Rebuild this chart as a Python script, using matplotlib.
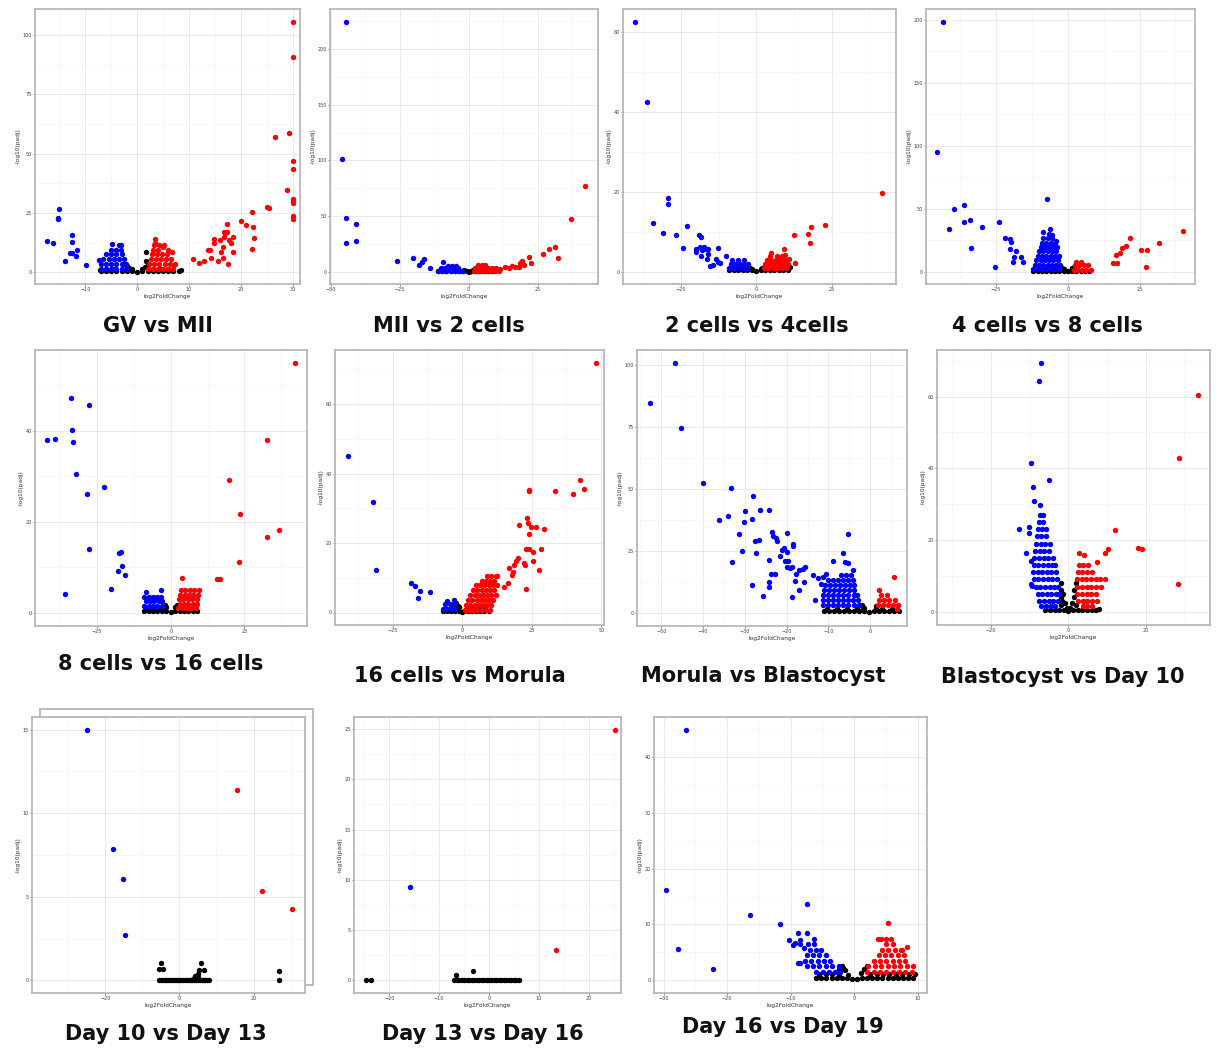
import matplotlib
matplotlib.use('Agg')
import matplotlib.pyplot as plt
from matplotlib.patches import Rectangle
from matplotlib.ticker import AutoMinorLocator

W, H = 1216, 1050

# each comparison: down-regulated (blue), up-regulated (red), not significant (black)
# points are (log2FoldChange, -log10(padj))

gv_mii_down = [(-15, 26.5), (-15.3, 23), (-15.2, 22.4), (-17.4, 13), (-16.3, 12.3), (-12.5, 15.8),
               (-12.6, 12.8), (-13, 8), (-12.6, 8), (-11.6, 9.4), (-11.7, 7), (-13.9, 4.6), (-9.8, 3.2),
               (-7, 1.5), (-6, 1.5), (-5, 1.5), (-4, 1.5), (-3, 1.5), (-2, 1.5),
               (-7, 3.5), (-6, 3.5), (-5, 3.5), (-4, 3.5), (-3, 3.5), (-2.2, 3.5),
               (-6.5, 5.5), (-5.5, 5.5), (-4.5, 5.5), (-3.5, 5.5), (-2.6, 5.5),
               (-6, 7.5), (-5, 7.5), (-4, 7.5), (-3, 7.5), (-5, 9.5), (-4, 9.5), (-3.2, 9.5),
               (-4.8, 12), (-3.5, 11.5), (-3.2, 11.5), (-7.3, 5)]
gv_mii_up = [(30.1, 105.6), (30, 90.8), (29.2, 58.9), (26.5, 57), (30, 46.8), (30, 43.4), (28.9, 34.8),
             (30, 30.8), (30, 30), (30, 29.2), (30, 23.5), (30, 22.5), (25, 27.3), (25.5, 26.9),
             (22.2, 25.2), (22.4, 18.9), (22.5, 14.4), (22.2, 9.9), (20.1, 21.5), (20.9, 20), (17.4, 20.1),
             (17, 16.6), (16.7, 16.8), (17.3, 16.8), (14.8, 14), (16, 13.7), (14.8, 12.3), (16.7, 14.8),
             (18.5, 15), (17.7, 13.4), (18, 12.3), (16.6, 10.6), (18.5, 8.4), (16.1, 8.4), (13.7, 9.2),
             (14, 9.2), (14.2, 6), (16.5, 6), (15.6, 4.5), (17.6, 3.5), (10.8, 5.6), (12, 4), (12.9, 4.6),
             (2, 1.5), (3, 1.5), (4, 1.5), (5, 1.5), (6, 1.5), (7, 1.5),
             (2.3, 3.5), (3.3, 3.5), (4.3, 3.5), (5.3, 3.5), (6.3, 3.5), (7.3, 3.5),
             (2.6, 5.5), (3.6, 5.5), (4.6, 5.5), (5.6, 5.5), (6.6, 5.5),
             (2.8, 7.5), (3.8, 7.5), (4.8, 7.5), (5.8, 7.5), (6.8, 8.5),
             (3, 9.5), (4, 9.5), (5, 10.4), (6, 9.5), (3.3, 11.5), (4.3, 11.5), (5.2, 11.5),
             (3.4, 14), (3.5, 12.3), (7.1, 3.2)]
gv_mii_ns = [(-7.2, 1.1), (1.7, 8.4), (8.4, 1.1), (-7, 0.5), (-6, 0.5), (-5, 0.5), (-4, 0.5), (-3, 0.5),
             (-2, 0.5), (-1, 0.5), (0, 0.2), (1, 0.5), (2, 0.5), (3, 0.5), (4, 0.5), (5, 0.5), (6, 0.5),
             (7, 0.5), (8, 0.5), (-2.3, 3.5), (-2, 2.5), (-1.5, 1.8), (-1, 1.2), (1, 1.2), (1.5, 2.2),
             (2, 3.2), (1.8, 4.5), (-6, 1.3), (-4.5, 1.3), (-3, 1.3), (3, 1.3), (4.5, 1.3), (6, 1.3)]

mii_2c_down = [(-44.3, 224.6), (-45.7, 101.2), (-44.5, 48.5), (-40.9, 42.8), (-44.3, 26), (-40.9, 27.5),
               (-26, 9.3), (-20, 12.6), (-16.3, 11.7), (-16.9, 9), (-17.8, 6), (-13.8, 3.3), (-9.1, 8.4),
               (-11, 1), (-9.5, 1), (-8, 1), (-6.5, 1), (-5, 1), (-3.5, 1), (-2.2, 1),
               (-10, 3.5), (-8.5, 3.5), (-7, 3.5), (-5.5, 3.5), (-4, 3.5), (-7.5, 5.5), (-6, 5.5), (-4.5, 5)]
mii_2c_up = [(42.3, 77.2), (37, 47.6), (31.4, 21.9), (29.1, 20), (27.1, 15.9), (32.4, 12.6), (21.8, 13.5),
             (22.5, 7.5), (19.3, 10), (18.7, 8), (20, 6), (18.1, 4.5), (16.9, 4.5), (15.7, 5.4), (14.5, 3),
             (13.3, 4.5), (11.5, 2.7), (2, 1), (3.5, 1), (5, 1), (6.5, 1), (8, 1), (9.5, 1), (11, 1),
             (2.5, 3.5), (4, 3.5), (5.5, 3.5), (7, 3.5), (8.5, 3.5), (10, 3.5), (3.5, 6), (5, 6), (6, 6)]
mii_2c_ns = [(-11, 0.3), (-9.5, 0.3), (-8, 0.3), (-6.5, 0.3), (-5, 0.3), (-3.5, 0.3), (-2, 0.3), (-0.5, 0.3),
             (1, 0.3), (2.5, 0.3), (4, 0.3), (5.5, 0.3), (7, 0.3), (8.5, 0.3), (0, 0), (-1.5, 2), (1.5, 1.8)]

c2_c4_down = [(-40.2, 62.5), (-36.4, 42.4), (-29.2, 18.3), (-29.2, 17), (-34.2, 12.1), (-30.9, 9.7),
              (-26.5, 9.1), (-23, 11.5), (-24.3, 6), (-20.1, 5), (-19.9, 5.6), (-19, 9.2), (-18.3, 8.6),
              (-18.5, 6.25), (-17.4, 6.25), (-16.8, 5.6), (-17.9, 5.4), (-18.3, 3.9), (-15.9, 5.7),
              (-16.1, 4.4), (-16.3, 3.1), (-15.2, 1.4), (-14.3, 1.7), (-12.7, 5.9), (-13.2, 3.1),
              (-12.8, 2.5), (-11.9, 2.1), (-9.9, 3.8), (-9, 0.8), (-7.5, 0.8), (-6, 0.8), (-4.5, 0.8),
              (-3, 0.8), (-8.5, 1.8), (-7, 1.8), (-5.5, 1.8), (-4, 1.8), (-2.8, 1.8), (-8, 2.8), (-6, 2.8),
              (-4.2, 2.8)]
c2_c4_up = [(41.9, 19.6), (23, 11.6), (18.1, 11.1), (12.4, 9.1), (17.2, 9.3), (17.7, 7.25), (9.1, 5.75),
            (4.9, 4.6), (9.7, 4.2), (12.9, 2.1), (10.8, 3.1), (7.9, 3.3), (6.8, 2.5),
            (2.5, 0.8), (4, 0.8), (5.5, 0.8), (7, 0.8), (8.5, 0.8), (10, 0.8),
            (3, 1.8), (4.5, 1.8), (6, 1.8), (7.5, 1.8), (9, 1.8), (10.5, 1.8),
            (3.5, 2.8), (5, 2.8), (6.5, 2.8), (8, 2.8), (9.5, 2.8), (4.5, 3.8), (7, 3.8), (8.5, 3.8)]
c2_c4_ns = [(11.3, 1.25), (-9, 0.3), (-7.5, 0.3), (-6, 0.3), (-4.5, 0.3), (-3, 0.3), (-1.5, 0.3), (0, 0.1),
            (1.5, 0.3), (3, 0.3), (4.5, 0.3), (6, 0.3), (7.5, 0.3), (9, 0.3), (10.5, 0.3),
            (-2, 0.9), (-1.5, 0.6), (1.5, 0.6), (2, 0.9)]

c4_c8_down = [(-43.6, 198.4), (-45.5, 95.2), (-39.7, 49.7), (-41.3, 33.6), (-36.2, 53.2), (-36, 39.7),
              (-34.1, 41), (-33.7, 18.5), (-30, 35.7), (-24, 39.7), (-25.3, 4), (-21.9, 26.5), (-20.1, 26.2),
              (-19.9, 23.5), (-20.1, 17.7), (-18, 16.7), (-18.7, 11.9), (-19, 7.4), (-16.4, 11.9),
              (-15.5, 7.9), (-7.2, 57.4),
              (-12, 2), (-10.5, 2), (-9, 2), (-7.5, 2), (-6, 2), (-4.5, 2), (-3, 2),
              (-11.5, 5.5), (-10, 5.5), (-8.5, 5.5), (-7, 5.5), (-5.5, 5.5), (-4, 5.5), (-2.8, 5.5),
              (-11, 9), (-9.5, 9), (-8, 9), (-6.5, 9), (-5, 9), (-3.5, 9),
              (-10.5, 12.5), (-9, 12.5), (-7.5, 12.5), (-6, 12.5), (-4.5, 12.5), (-3.2, 12.5),
              (-10, 16), (-8.5, 16), (-7, 16), (-5.5, 16), (-4, 16),
              (-9.5, 19.5), (-8, 19.5), (-6.5, 19.5), (-5, 19.5), (-3.8, 19.5),
              (-9, 23), (-7.5, 23), (-6, 23), (-4.5, 23), (-4.1, 24.6),
              (-8.5, 26.5), (-7, 26.5), (-5.5, 26.5), (-8.5, 31.7), (-6.5, 30), (-6.2, 33.6), (-5.5, 29)]
c4_c8_up = [(40.1, 32.5), (31.6, 22.5), (27.6, 17.2), (25.5, 17.2), (27.2, 3.4), (21.7, 26.5), (20.1, 20.4),
            (18.8, 18.5), (18.3, 14.6), (16.7, 13.2), (15.9, 7.1), (17.1, 6.6),
            (2, 1.5), (3.5, 1.5), (5, 1.5), (6.5, 1.5), (8, 1.5), (2.5, 5), (4, 5), (5.5, 5), (7, 5),
            (3, 8), (4.5, 7.5)]
c4_c8_ns = [(-12, 0.8), (-10.5, 0.8), (-9, 0.8), (-7.5, 0.8), (-6, 0.8), (-4.5, 0.8), (-3, 0.8),
            (-1.5, 0.8), (0, 0.2), (1.5, 0.8), (3, 0.8), (4.5, 0.8), (6, 0.8), (7.5, 0.8),
            (-2, 3), (-1.5, 2), (1.5, 3), (2, 3.5)]

c8_c16_down = [(-33.8, 47.1), (-27.6, 45.6), (-33.4, 40.1), (-33, 37.4), (-41.9, 37.9), (-39.3, 38.1),
               (-32.1, 30.5), (-22.6, 27.6), (-28.5, 26), (-27.6, 14.1), (-17, 13.3), (-17.4, 13.1),
               (-16.6, 10.3), (-18, 9.2), (-15.4, 8.2), (-20.2, 5.3), (-36, 4.2),
               (-9, 1.5), (-7.5, 1.5), (-6, 1.5), (-4.5, 1.5), (-3, 1.5),
               (-8.5, 2.5), (-7, 2.5), (-5.5, 2.5), (-4, 2.5), (-3, 2.5),
               (-9, 3.5), (-7.5, 3.5), (-6, 3.5), (-4.5, 3.5), (-3.2, 3.5), (-8.5, 4.5), (-3.3, 5.1)]
c8_c16_up = [(42, 54.8), (32.6, 37.9), (19.6, 29.2), (23.5, 21.6), (36.7, 18.1), (32.6, 16.6), (23.3, 11.1),
             (15.8, 7.5), (16.7, 7.5), (3.7, 7.7),
             (2.5, 1), (4, 1), (5.5, 1), (7, 1), (8.5, 1), (3, 2), (4.5, 2), (6, 2), (7.5, 2), (9, 2),
             (2.8, 3), (4.3, 3), (5.8, 3), (7.3, 3), (8.8, 3), (3.2, 4), (4.7, 4), (6.2, 4), (7.7, 4),
             (9.2, 4), (3.5, 5), (5, 5), (6.5, 5), (8, 5), (9.5, 5)]
c8_c16_ns = [(-9, 0.4), (-7.5, 0.4), (-6, 0.4), (-4.5, 0.4), (-3, 0.4), (-1.5, 0.4), (0, 0.1), (1.5, 0.4),
             (3, 0.4), (4.5, 0.4), (6, 0.4), (7.5, 0.4), (9, 0.4), (-8, 1.1), (-6, 1.1), (-4, 1.1),
             (-2, 1.1), (2, 1.1), (4, 1.1), (6, 1.1), (8, 1.1), (-2, 1.8), (2, 1.8), (-1.5, 1.2), (1.5, 1.2)]

c16_mor_down = [(-41.2, 45.1), (-32, 31.7), (-30.8, 12.2), (-18.2, 8.6), (-17, 7.7), (-15.2, 6.2),
                (-15.8, 4.1), (-11.4, 5.8), (-7, 1), (-5.5, 1), (-4, 1), (-2.5, 1), (-6, 2.5), (-4.5, 2.5),
                (-3, 2.5), (-5.5, 3.2), (-3, 3.5)]
c16_mor_up = [(48, 71.8), (42.2, 38.2), (43.8, 35.6), (39.9, 34.1), (33.5, 35), (24.2, 35.4), (24.2, 35),
              (23.4, 27.2), (23.5, 25.7), (24.9, 24.5), (26.7, 24.5), (29.3, 24.1), (20.4, 25.2),
              (24.1, 22.6), (23.1, 18.3), (24, 18.2), (25.4, 17.4), (28.4, 18.2), (25.6, 14.7),
              (27.7, 12.3), (20.1, 15.8), (19.2, 14.7), (22.3, 14.2), (22.5, 13.7), (18.7, 13.7),
              (18.3, 11.8), (18, 10.8), (16.8, 12.8), (16.5, 8.4), (14.9, 7.3), (23, 6.7), (12.7, 10.6),
              (1, 0.8), (2.5, 0.8), (4, 0.8), (5.5, 0.8), (7, 0.8), (8.5, 0.8), (10, 0.8),
              (1.5, 2.2), (3, 2.2), (4.5, 2.2), (6, 2.2), (7.5, 2.2), (9, 2.2), (10.5, 2.2),
              (2.2, 3.6), (3.7, 3.6), (5.2, 3.6), (6.7, 3.6), (8.2, 3.6), (9.7, 3.6), (11.2, 3.6),
              (3, 5), (4.5, 5), (6, 5), (7.5, 5), (9, 5), (10.5, 5), (12, 5),
              (4, 6.4), (5.5, 6.4), (7, 6.4), (8.5, 6.4), (10, 6.4), (11.5, 6.4),
              (5, 7.8), (6.5, 7.8), (8, 7.8), (9.5, 7.8), (11, 7.8), (12.5, 7.8),
              (7, 9.2), (8.5, 9.2), (10, 9.2), (11.5, 9.2), (9, 10.4), (10.5, 10.4), (12, 10.4)]
c16_mor_ns = [(-7, 0.4), (-5.5, 0.4), (-4, 0.4), (-2.5, 0.4), (-1, 0.4), (0, 0.1), (0.5, 0.4), (2, 0.4),
              (3.5, 0.4), (5, 0.4), (6.5, 0.4), (8, 0.4), (9.5, 0.4), (-6, 1.2), (-4, 1.2), (-2, 1.2),
              (2, 1.2), (4, 1.2), (6, 1.2), (8, 1.2), (-2.2, 2.8), (-1.5, 2), (-1, 1.5)]

mor_bla_down = [(-52.8, 84.8), (-46.8, 100.7), (-45.3, 74.7), (-39.9, 52.2), (-33.3, 50.2), (-28, 47.1),
                (-36.3, 37.4), (-34, 38.8), (-29.9, 41.2), (-30.2, 36.7), (-28.2, 37.8), (-26.4, 41.5),
                (-24.3, 41.5), (-31.5, 31.6), (-27.5, 29.1), (-26.5, 29.2), (-30.7, 25), (-27.4, 24),
                (-33.1, 20.3), (-28.3, 11.2), (-25.6, 6.6), (-24.1, 21.3), (-24.1, 12.2), (-24.1, 10.4),
                (-23.5, 32.4), (-23.3, 31), (-22.5, 30.3), (-22.2, 28.9), (-19.9, 32), (-21.1, 25.3),
                (-20.6, 26.2), (-19.9, 24.4), (-21.5, 23), (-23.8, 15.7), (-22.7, 15.7), (-18.5, 27.6),
                (-18.5, 26.9), (-20.3, 20.9), (-19.7, 20.9), (-19.9, 18.6), (-19.1, 18.2), (-18.7, 18.6),
                (-17.7, 15.5), (-17.9, 12.8), (-17, 17.2), (-16.2, 17.5), (-15.7, 18.6), (-15.8, 12.2),
                (-17, 9.2), (-18.7, 6.5), (-13.8, 15), (-13.1, 5.1), (-12.4, 13.9), (-11.4, 14.3),
                (-11.7, 11.7), (-10.6, 15.5), (-8.8, 20.9), (-6.6, 24), (-5.2, 31.9), (-6, 20.3),
                (-5.3, 19.9), (-4.2, 17.2),
                (-11.2, 3), (-10, 3), (-8.8, 3), (-7.6, 3), (-6.4, 3), (-5.2, 3), (-4, 3), (-2.8, 3),
                (-11.4, 5), (-10.2, 5), (-9, 5), (-7.8, 5), (-6.6, 5), (-5.4, 5), (-4.2, 5), (-3, 5),
                (-11.2, 7), (-10, 7), (-8.8, 7), (-7.6, 7), (-6.4, 7), (-5.2, 7), (-4, 7), (-3.2, 7),
                (-11, 9), (-9.8, 9), (-8.6, 9), (-7.4, 9), (-6.2, 9), (-5, 9), (-3.8, 9),
                (-10.8, 11), (-9.6, 11), (-8.4, 11), (-7.2, 11), (-6, 11), (-4.8, 11), (-3.8, 11),
                (-10, 13), (-8.8, 13), (-7.6, 13), (-6.4, 13), (-5.2, 13), (-4.2, 13),
                (-7, 15), (-5.8, 15), (-4.6, 15)]
mor_bla_up = [(5.8, 14.5), (2, 9.2), (1.8, 3), (3, 3), (4.2, 3), (5.4, 3), (6.6, 3),
              (2.2, 5), (3.4, 5), (4.6, 5), (6, 5), (2.5, 7), (4, 7), (6.3, 1.5)]
mor_bla_ns = [(-11, 0.6), (-9.8, 0.6), (-8.6, 0.6), (-7.4, 0.6), (-6.2, 0.6), (-5, 0.6), (-3.8, 0.6),
              (-2.6, 0.6), (-1.4, 0.6), (-0.2, 0.2), (1, 0.6), (2.2, 0.6), (3.4, 0.6), (4.6, 0.6),
              (5.8, 0.6), (7, 0.6), (-10.4, 1.4), (-8, 1.4), (-5.6, 1.4), (-3.2, 1.4), (2.8, 1.4),
              (5.2, 1.4), (-1.8, 1.8), (1.4, 1.8), (-2, 3), (-1.5, 2), (1.5, 2.5)]

bla_d10_down = [(-7.1, 69.4), (-7.6, 64.4), (-9.8, 41.5), (-5, 36.8), (-9.1, 34.9), (-8.8, 30.8),
                (-7.4, 29.7), (-12.8, 23.1), (-10.3, 23.6), (-10.3, 21.9), (-10.9, 16.5), (-9.8, 14.2),
                (-9.7, 7.7), (-9.5, 7.2),
                (-7, 1.5), (-5.8, 1.5), (-4.6, 1.5), (-3.4, 1.5),
                (-7.5, 3), (-6.3, 3), (-5.1, 3), (-3.9, 3), (-2.7, 3),
                (-8, 5), (-6.8, 5), (-5.6, 5), (-4.4, 5), (-3.2, 5), (-2.4, 5),
                (-8.5, 7), (-7.3, 7), (-6.1, 7), (-4.9, 7), (-3.7, 7), (-2.6, 7),
                (-9, 9), (-7.8, 9), (-6.6, 9), (-5.4, 9), (-4.2, 9), (-3, 9),
                (-9.2, 11), (-8, 11), (-6.8, 11), (-5.6, 11), (-4.4, 11), (-3.2, 11),
                (-9, 13), (-7.8, 13), (-6.6, 13), (-5.4, 13), (-4.2, 13), (-3.4, 13),
                (-8.8, 15), (-7.6, 15), (-6.4, 15), (-5.2, 15), (-4, 15),
                (-8.6, 17), (-7.4, 17), (-6.2, 17), (-5, 17), (-8.4, 19), (-7.2, 19), (-6, 19), (-4.8, 19),
                (-8.2, 21), (-7, 21), (-5.8, 21), (-8, 23), (-6.8, 23), (-5.8, 23),
                (-7.6, 25), (-6.6, 25), (-7.4, 27), (-6.6, 27)]
bla_d10_up = [(33.4, 60.4), (28.7, 43), (12.1, 22.8), (17.9, 17.7), (19.1, 17.5), (28.4, 7.7), (10.3, 17.4),
              (9.5, 16.5), (2.6, 16.5), (4.1, 15.8), (7.5, 14),
              (3.7, 1.5), (4.9, 1.5), (6.1, 1.5), (2.5, 3), (3.7, 3), (4.9, 3), (6.1, 3),
              (7.3, 3), (2.3, 5), (3.5, 5), (4.7, 5), (5.9, 5), (7.1, 5),
              (2.3, 7), (3.5, 7), (4.7, 7), (5.9, 7), (7.1, 7), (8.3, 7),
              (2.2, 9), (3.4, 9), (4.6, 9), (5.8, 9), (7, 9), (8.2, 9), (9.4, 9),
              (2.4, 11), (3.6, 11), (4.8, 11), (6, 11), (2.6, 13), (3.8, 13), (5, 13)]
bla_d10_ns = [(7.9, 0.7), (-6, 0.5), (-4.8, 0.5), (-3.6, 0.5), (-2.4, 0.5), (-1.2, 0.5), (0, 0.1),
              (1.2, 0.5), (2.4, 0.5), (3.6, 0.5), (4.8, 0.5), (6, 0.5), (7, 0.5),
              (-2, 2), (-2, 4), (-2, 6), (-2, 8), (-1.6, 3), (-1.5, 5), (-1, 2.5), (-0.5, 1), (0.5, 1),
              (1, 2.5), (1.5, 4), (1.5, 6), (1.9, 8), (1.9, 2)]

d10_d13_down = [(-25, 14.98), (-18, 7.84), (-15.1, 6.06), (-14.6, 2.7)]
d10_d13_up = [(15.5, 11.4), (22.2, 5.34), (30.5, 4.28)]
d10_d13_ns = [(27, 0.56), (27, 0), (-5, 1.04), (-5.4, 0.68), (-4.3, 0.68), (5.8, 1.04), (5.4, 0.6),
              (6.5, 0.6), (4.2, 0.24), (4.9, 0.2), (-5.5, 0), (-5, 0), (-4.5, 0), (-4, 0), (-3.5, 0),
              (-3, 0), (-2.5, 0), (-2, 0), (-1.5, 0), (-1, 0), (-0.5, 0), (0, 0), (0.5, 0), (1, 0),
              (1.5, 0), (2, 0), (2.5, 0), (3, 0), (3.5, 0), (4, 0), (4.5, 0), (5, 0), (5.5, 0), (6, 0),
              (6.5, 0), (7, 0), (7.5, 0), (8, 0), (5, 0.4), (3.6, 0.1)]

d13_d16_down = [(-15.8, 9.25)]
d13_d16_up = [(25.3, 24.9), (13.4, 3.06)]
d13_d16_ns = [(-24.6, 0), (-23.6, 0), (-6.7, 0.5), (-3.2, 0.93), (-7, 0), (-6.5, 0), (-6, 0), (-5.5, 0),
              (-5, 0), (-4.5, 0), (-4, 0), (-3.5, 0), (-3, 0), (-2.5, 0), (-2, 0), (-1.5, 0), (-1, 0),
              (-0.5, 0), (0, 0), (0.5, 0), (1, 0), (1.5, 0), (2, 0), (2.5, 0), (3, 0), (3.5, 0), (4, 0),
              (4.5, 0), (5, 0), (5.5, 0), (6, 0)]

d16_d19_down = [(-26.5, 44.9), (-29.6, 16.1), (-27.8, 5.6), (-22.2, 2), (-16.4, 11.75), (-11.7, 10.1),
                (-7.4, 13.7), (-8.8, 8.5), (-7.5, 8.4), (-10.3, 7.2), (-6.4, 7.3), (-9.6, 6.3), (-9.3, 6.6),
                (-8.6, 7.2), (-8, 5.8), (-8.6, 3), (-8.8, 3),
                (-6, 1.5), (-5, 1.5), (-4, 1.5), (-3, 1.5), (-2.2, 1.5),
                (-7.5, 2.5), (-6.5, 2.5), (-5.5, 2.5), (-4.5, 2.5), (-3.5, 2.5), (-2.5, 2.5),
                (-7.8, 3.5), (-6.8, 3.5), (-5.8, 3.5), (-4.8, 3.5), (-3.8, 3.5),
                (-7.5, 4.5), (-6.5, 4.5), (-5.5, 4.5), (-4.5, 4.5), (-7, 5.5), (-6, 5.5), (-5.2, 5.5),
                (-8.5, 6.5), (-7.3, 6.5), (-6.3, 6.5)]
d16_d19_up = [(5.3, 10.3), (3.7, 7.4), (4.2, 7.4), (5, 7.4), (5.7, 7.4), (8.2, 6), (7.4, 5.5), (9.2, 2.5),
              (2, 1.5), (3, 1.5), (4, 1.5), (5, 1.5), (6, 1.5), (7, 1.5), (8, 1.5), (9, 1.5),
              (2.2, 2.5), (3.2, 2.5), (4.2, 2.5), (5.2, 2.5), (6.2, 2.5), (7.2, 2.5), (8.2, 2.5),
              (3, 3.5), (4, 3.5), (5, 3.5), (6, 3.5), (7, 3.5), (8, 3.5),
              (3.8, 4.5), (4.8, 4.5), (5.8, 4.5), (6.8, 4.5), (7.8, 4.5),
              (4.3, 5.5), (5.3, 5.5), (6.3, 5.5), (7.3, 5.5), (5, 6.5), (6, 6.5)]
d16_d19_ns = [(-6, 0.4), (-5.2, 0.4), (-4.4, 0.4), (-3.6, 0.4), (-2.8, 0.4), (-2, 0.4), (-1.2, 0.4),
              (-0.4, 0.2), (0.4, 0.2), (1.2, 0.4), (2, 0.4), (2.8, 0.4), (3.6, 0.4), (4.4, 0.4), (5.2, 0.4),
              (6, 0.4), (6.8, 0.4), (7.6, 0.4), (8.4, 0.4), (9.2, 0.4),
              (-5.5, 1.1), (-4.5, 1.1), (-3.5, 1.1), (-2.5, 1.1), (2.5, 1.1), (3.5, 1.1), (4.5, 1.1),
              (5.5, 1.1), (6.5, 1.1), (7.5, 1.1), (8.5, 1.1), (9.5, 1.1),
              (-2, 2.5), (-1.5, 1.8), (-1, 1), (1, 1.2), (1.5, 2), (2, 2.5), (-2.5, 2), (-1.8, 2.2)]

titles = ['GV vs MII', 'MII vs 2 cells', '2 cells vs 4cells', '4 cells vs 8 cells',
          '8 cells vs 16 cells', '16 cells vs Morula', 'Morula vs Blastocyst', 'Blastocyst vs Day 10',
          'Day 10 vs Day 13', 'Day 13 vs Day 16', 'Day 16 vs Day 19']

panels = [
    # (down, up, ns), box px (l, t, r, b), xlim, ylim, xticks, yticks, title centre px
    ((gv_mii_down, gv_mii_up, gv_mii_ns), (35, 9, 300, 284), (-19.7, 31.4), (-5, 111),
     [-10, 0, 10, 20, 30], [0, 25, 50, 75, 100], (158, 326)),
    ((mii_2c_down, mii_2c_up, mii_2c_ns), (330, 9, 598, 284), (-50.2, 46.9), (-11, 236),
     [-50, -25, 0, 25], [0, 50, 100, 150, 200], (449, 326)),
    ((c2_c4_down, c2_c4_up, c2_c4_ns), (623, 9, 896, 284), (-44.2, 46.4), (-3.1, 65.7),
     [-25, 0, 25], [0, 20, 40, 60], (757, 326)),
    ((c4_c8_down, c4_c8_up, c4_c8_ns), (926, 9, 1195, 284), (-49.4, 44.3), (-9.8, 208.5),
     [-25, 0, 25], [0, 50, 100, 150, 200], (1047, 326)),
    ((c8_c16_down, c8_c16_up, c8_c16_ns), (35, 350, 307, 626), (-46, 46.2), (-2.9, 57.7),
     [-25, 0, 25], [0, 20, 40], (161, 664)),
    ((c16_mor_down, c16_mor_up, c16_mor_ns), (335, 350, 604, 625), (-45.7, 51), (-3.6, 75.6),
     [-25, 0, 25, 50], [0, 20, 40, 60], (460, 676)),
    ((mor_bla_down, mor_bla_up, mor_bla_ns), (637, 350, 907, 626), (-55.8, 8.8), (-5.4, 106),
     [-50, -40, -30, -20, -10, 0], [0, 25, 50, 75, 100], (763, 676)),
    ((bla_d10_down, bla_d10_up, bla_d10_ns), (937, 350, 1210, 625), (-34, 36.6), (-3.7, 73),
     [-20, 0, 20], [0, 20, 40, 60], (1063, 677)),
    ((d10_d13_down, d10_d13_up, d10_d13_ns), (32, 717, 305, 993), (-39.8, 33.9), (-0.76, 15.76),
     [-20, 0, 20], [0, 5, 10, 15], (166, 1034)),
    ((d13_d16_down, d13_d16_up, d13_d16_ns), (354, 717, 621, 993), (-27.1, 26.5), (-1.26, 26.2),
     [-20, -10, 0, 10, 20], [0, 5, 10, 15, 20, 25], (483, 1034)),
    ((d16_d19_down, d16_d19_up, d16_d19_ns), (654, 717, 927, 993), (-31.5, 11.4), (-2.3, 47.2),
     [-30, -20, -10, 0, 10], [0, 10, 20, 30, 40], (783, 1027)),
]

fig = plt.figure(figsize=(W / 100, H / 100), dpi=100)
fig.patch.set_facecolor('white')

# the Day 10 vs Day 13 image carries a second frame behind it
fig.patches.append(Rectangle((40 / W, 1 - 985 / H), 273 / W, 276 / H, transform=fig.transFigure,
                             fill=False, edgecolor='#b0b0b0', linewidth=1.2, zorder=-5))

for (down, up, ns), box, xlim, ylim, xticks, yticks, tpos in panels:
    l, t, r, b = box
    ax = fig.add_axes([l / W, 1 - b / H, (r - l) / W, (b - t) / H])
    ax.set_zorder(1)
    for pts, col in ((ns, 'black'), (down, '#0000ff'), (up, '#ff0000')):
        ax.scatter([p[0] for p in pts], [p[1] for p in pts], s=15, c=col, linewidths=0, zorder=3)
    ax.set_xlim(xlim)
    ax.set_ylim(ylim)
    ax.set_xticks(xticks)
    ax.set_yticks(yticks)
    ax.xaxis.set_minor_locator(AutoMinorLocator(2))
    ax.yaxis.set_minor_locator(AutoMinorLocator(2))
    ax.grid(which='major', color='#e6e6e6', linewidth=0.6)
    ax.grid(which='minor', color='#f2f2f2', linewidth=0.4)
    ax.set_axisbelow(True)
    ax.tick_params(which='major', length=1.5, width=0.5, color='#555555', labelsize=3.5,
                   labelcolor='#444444', pad=1)
    ax.tick_params(which='minor', length=0)
    for sp in ax.spines.values():
        sp.set_color('#b3b3b3')
        sp.set_linewidth(1.2)
    ax.set_xlabel('log2FoldChange', fontsize=4.2, color='#333333', labelpad=1)
    ax.set_ylabel('-log10(padj)', fontsize=4.2, color='#333333', labelpad=1)

for name, (*_, tpos) in zip(titles, panels):
    fig.text(tpos[0] / W, 1 - tpos[1] / H, name, ha='center', va='center',
             fontsize=15, fontweight='bold', color='#111111')

fig.savefig('out.png', dpi=100)
